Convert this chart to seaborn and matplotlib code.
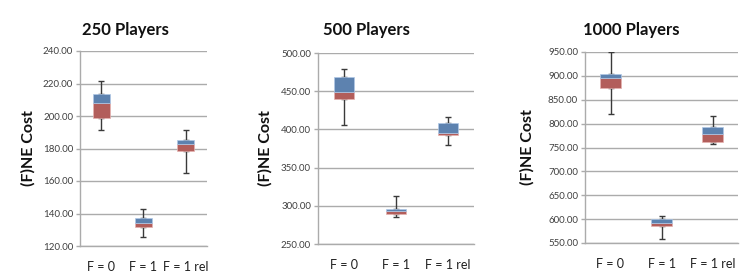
import numpy as np
import pandas as pd
import seaborn as sns
import matplotlib.pyplot as plt
from matplotlib.ticker import FormatStrFormatter, MultipleLocator

# categories on the x axis
categories = ["F = 0", "F = 1", "F = 1 rel"]

# 250 players: min, q1, median, q3, max
p250_min = [191.2, 125.7, 165.1]
p250_q1 = [198.6, 131.7, 178.3]
p250_med = [208.0, 134.4, 182.8]
p250_q3 = [213.5, 137.0, 185.0]
p250_max = [221.3, 143.0, 191.2]

# 500 players
p500_min = [405.2, 285.0, 380.2]
p500_q1 = [439.7, 289.8, 392.9]
p500_med = [448.9, 293.3, 395.0]
p500_q3 = [469.0, 295.5, 408.2]
p500_max = [478.6, 312.5, 416.0]

# 1000 players
p1000_min = [819.5, 557.5, 756.7]
p1000_q1 = [875.5, 586.3, 761.0]
p1000_med = [895.0, 591.3, 777.5]
p1000_q3 = [904.8, 600.0, 793.0]
p1000_max = [949.3, 606.5, 816.0]

titles = ["250 Players", "500 Players", "1000 Players"]

BLUE = "#4F81BD"
RED = "#C0504D"
GRID = "#ABABAB"
TEXT = "#404040"

sns.set_style("white")
plt.rcParams["font.family"] = ["Lato", "DejaVu Sans"]

fig = plt.figure(figsize=(7.44, 2.72), dpi=100)
W, H = 744, 272

# (left, right, top, bottom) in pixels, y range, title x, ylabel x
layout = [
    ((80, 207, 51, 246), (120, 240, 20), 125, 28),
    ((318, 474, 53, 244), (250, 500, 50), 366, 265),
    ((585, 738, 52, 243), (550, 950, 50), 631, 527),
]
stats = [
    (p250_min, p250_q1, p250_med, p250_q3, p250_max),
    (p500_min, p500_q1, p500_med, p500_q3, p500_max),
    (p1000_min, p1000_q1, p1000_med, p1000_q3, p1000_max),
]

for (box, yr, tx, lx), (vmin, q1, med, q3, vmax), title in zip(layout, stats, titles):
    l, r, t, b = box
    ax = fig.add_axes([l / W, 1 - b / H, (r - l) / W, (b - t) / H])

    df = pd.DataFrame({
        "cat": categories,
        "lower": np.subtract(med, q1),
        "upper": np.subtract(q3, med),
    })
    sns.barplot(data=df, x="cat", y="lower", bottom=q1, color=RED, width=0.4,
                edgecolor="#E6B3B1", linewidth=0.5, errorbar=None, ax=ax, zorder=3)
    sns.barplot(data=df, x="cat", y="upper", bottom=med, color=BLUE, width=0.4,
                edgecolor="#B0C8E6", linewidth=0.5, errorbar=None, ax=ax, zorder=3)

    xs = np.arange(len(categories))
    zeros = np.zeros(len(categories))
    ax.errorbar(xs, q3, yerr=[zeros, np.subtract(vmax, q3)], fmt="none",
                ecolor="#3A3A3A", elinewidth=1, capsize=2.2, capthick=1, zorder=2)
    ax.errorbar(xs, q1, yerr=[np.subtract(q1, vmin), zeros], fmt="none",
                ecolor="#3A3A3A", elinewidth=1, capsize=2.2, capthick=1, zorder=2)

    ax.set_xlim(-0.5, 2.5)
    ax.set_ylim(yr[0], yr[1])
    ax.yaxis.set_major_locator(MultipleLocator(yr[2]))
    ax.yaxis.set_major_formatter(FormatStrFormatter("%.2f"))
    ax.set_axisbelow(True)
    ax.grid(axis="y", color=GRID, linewidth=1)
    for s in ["top", "right"]:
        ax.spines[s].set_visible(False)
    for s in ["left", "bottom"]:
        ax.spines[s].set_color(GRID)
        ax.spines[s].set_linewidth(1)

    ax.tick_params(axis="y", left=True, length=3, width=1, color=GRID,
                   labelsize=7, labelcolor=TEXT, pad=2)
    ax.tick_params(axis="x", length=0, labelsize=9, labelcolor="#202020", pad=11)

    ax.set_xlabel("")
    ax.set_ylabel("(F)NE Cost", fontsize=11.5, fontweight="bold", color="#111111", va="center")
    ax.yaxis.set_label_coords((lx - l) / (r - l), 0.5)

    fig.text(tx / W, 1 - 30 / H, title, ha="center", va="center",
             fontsize=12, fontweight="bold", color="#111111")

fig.savefig("out.png", dpi=100)
